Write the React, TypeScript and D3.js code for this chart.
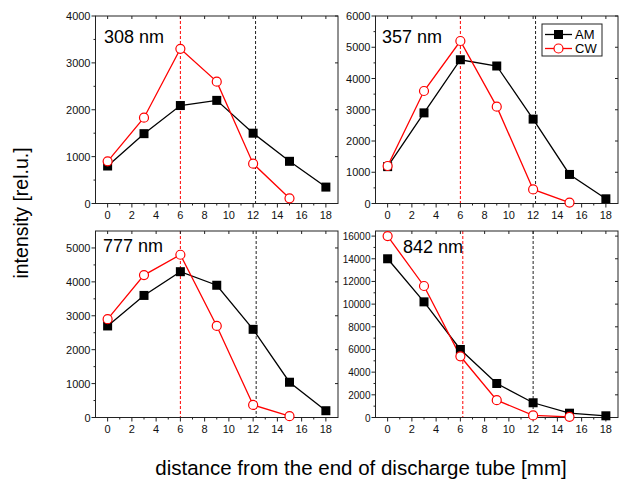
import React from 'react';
import * as d3 from 'd3';

// distance [mm] at which the intensities were measured
const distAM = [0, 3, 6, 9, 12, 15, 18];
const distCW = [0, 3, 6, 9, 12, 15];

const am308 = [800, 1490, 2090, 2200, 1500, 900, 350];
const cw308 = [900, 1830, 3300, 2600, 850, 110];

const am357 = [1180, 2900, 4600, 4400, 2700, 930, 150];
const cw357 = [1200, 3600, 5200, 3100, 450, 30];

const am777 = [2700, 3600, 4300, 3900, 2600, 1040, 200];
const cw777 = [2900, 4200, 4800, 2700, 370, 40];

const am842 = [14000, 10200, 6000, 3000, 1300, 380, 150];
const cw842 = [16000, 11600, 5400, 1530, 180, 60];

const xTicks = [0, 2, 4, 6, 8, 10, 12, 14, 16, 18];

const FONT = 'Liberation Sans, Arial, sans-serif';

type PanelProps = {
  label: string;
  am: number[];
  cw: number[];
  yMax: number;
  yStep: number;
  redLine: number;
  blackLine: number;
  box: { left: number; right: number; top: number; bottom: number };
  labelPos: [number, number];
  legend?: boolean;
};

const Panel = ({ label, am, cw, yMax, yStep, redLine, blackLine, box, labelPos, legend }: PanelProps) => {
  const x = d3.scaleLinear().domain([-1, 19]).range([box.left, box.right]);
  const y = d3.scaleLinear().domain([0, yMax]).range([box.bottom, box.top]);

  const yMajor = d3.range(0, yMax + 1, yStep);
  const yMinor = d3.range(yStep / 2, yMax, yStep);
  const xMinor = d3.range(-1, 20, 2);

  const line = d3.line<[number, number]>().x(d => x(d[0])).y(d => y(d[1]));
  const amPts: [number, number][] = distAM.map((d, i) => [d, am[i]]);
  const cwPts: [number, number][] = distCW.map((d, i) => [d, cw[i]]);

  return (
    <g>
      {/* reference lines */}
      <line x1={x(redLine)} x2={x(redLine)} y1={box.top} y2={box.bottom}
        stroke="#ff0000" strokeWidth={1} strokeDasharray="3,2" />
      <line x1={x(blackLine)} x2={x(blackLine)} y1={box.top} y2={box.bottom}
        stroke="#222" strokeWidth={1} strokeDasharray="3,2" />

      {/* frame */}
      <rect x={box.left} y={box.top} width={box.right - box.left} height={box.bottom - box.top}
        fill="none" stroke="#222" strokeWidth={1} />

      {/* x ticks */}
      {xTicks.map(t => (
        <g key={'xt' + t}>
          <line x1={x(t)} x2={x(t)} y1={box.bottom} y2={box.bottom + 4} stroke="#222" />
          <line x1={x(t)} x2={x(t)} y1={box.top} y2={box.top + 3} stroke="#222" />
          <text x={x(t)} y={box.bottom + 15} textAnchor="middle" fontSize={11} fontFamily={FONT} fill="#111">{t}</text>
        </g>
      ))}
      {xMinor.filter(t => t > -1 && t < 19).map(t => (
        <line key={'xm' + t} x1={x(t)} x2={x(t)} y1={box.bottom} y2={box.bottom + 2} stroke="#222" />
      ))}

      {/* y ticks */}
      {yMajor.map(t => (
        <g key={'yt' + t}>
          <line x1={box.left - 4} x2={box.left} y1={y(t)} y2={y(t)} stroke="#222" />
          <line x1={box.right - 3} x2={box.right} y1={y(t)} y2={y(t)} stroke="#222" />
          <text x={box.left - 5} y={y(t) + 4} textAnchor="end" fontSize={yMax > 10000 ? 10 : 11} fontFamily={FONT} fill="#111">{t}</text>
        </g>
      ))}
      {yMinor.map(t => (
        <line key={'ym' + t} x1={box.left - 2} x2={box.left} y1={y(t)} y2={y(t)} stroke="#222" />
      ))}

      {/* series */}
      <path d={line(amPts) || ''} fill="none" stroke="#000" strokeWidth={1.3} />
      <path d={line(cwPts) || ''} fill="none" stroke="#ff0000" strokeWidth={1.3} />
      {amPts.map((p, i) => (
        <rect key={'am' + i} x={x(p[0]) - 4.5} y={y(p[1]) - 4.5} width={9} height={9} fill="#000" />
      ))}
      {cwPts.map((p, i) => (
        <circle key={'cw' + i} cx={x(p[0])} cy={y(p[1])} r={4.5} fill="#fff" stroke="#ff0000" strokeWidth={1.2} />
      ))}

      <text x={labelPos[0]} y={labelPos[1]} fontSize={18} fontFamily={FONT} fill="#000">{label}</text>

      {legend && (
        <g>
          <rect x={542} y={24} width={60} height={32} fill="#fff" stroke="#222" strokeWidth={1} />
          <line x1={545} x2={572} y1={34.5} y2={34.5} stroke="#000" strokeWidth={1.3} />
          <rect x={554} y={30} width={9} height={9} fill="#000" />
          <text x={575} y={39} fontSize={13} fontFamily={FONT}>AM</text>
          <line x1={545} x2={572} y1={48.5} y2={48.5} stroke="#ff0000" strokeWidth={1.3} />
          <circle cx={558.5} cy={48.5} r={4.5} fill="#fff" stroke="#ff0000" strokeWidth={1.2} />
          <text x={575} y={53} fontSize={13} fontFamily={FONT}>CW</text>
        </g>
      )}
    </g>
  );
};

export default function App() {
  return (
    <svg width={622} height={479} style={{ position: 'absolute', left: 0, top: 0 }}>
      <rect width={622} height={479} fill="#fff" />
      <Panel label="308 nm" am={am308} cw={cw308} yMax={4000} yStep={1000} redLine={6} blackLine={12.2}
        box={{ left: 95.5, right: 338, top: 16, bottom: 203.5 }} labelPos={[104, 43]} />
      <Panel label="357 nm" am={am357} cw={cw357} yMax={6000} yStep={1000} redLine={6} blackLine={12.2}
        box={{ left: 375.5, right: 618, top: 16, bottom: 203.5 }} labelPos={[382, 43]} legend />
      <Panel label="777 nm" am={am777} cw={cw777} yMax={5500} yStep={1000} redLine={6} blackLine={12.25}
        box={{ left: 95.5, right: 338, top: 231, bottom: 417.5 }} labelPos={[103, 252]} />
      <Panel label="842 nm" am={am842} cw={cw842} yMax={16450} yStep={2000} redLine={6.2} blackLine={12}
        box={{ left: 375.5, right: 618, top: 231, bottom: 417.5 }} labelPos={[403, 253]} />

      <text transform="translate(28,213) rotate(-90)" textAnchor="middle" fontSize={19.5} fontFamily={FONT}>
        intensity [rel.u.]
      </text>
      <text x={361} y={475} textAnchor="middle" fontSize={20.5} fontFamily={FONT}>
        distance from the end of discharge tube [mm]
      </text>
    </svg>
  );
}
